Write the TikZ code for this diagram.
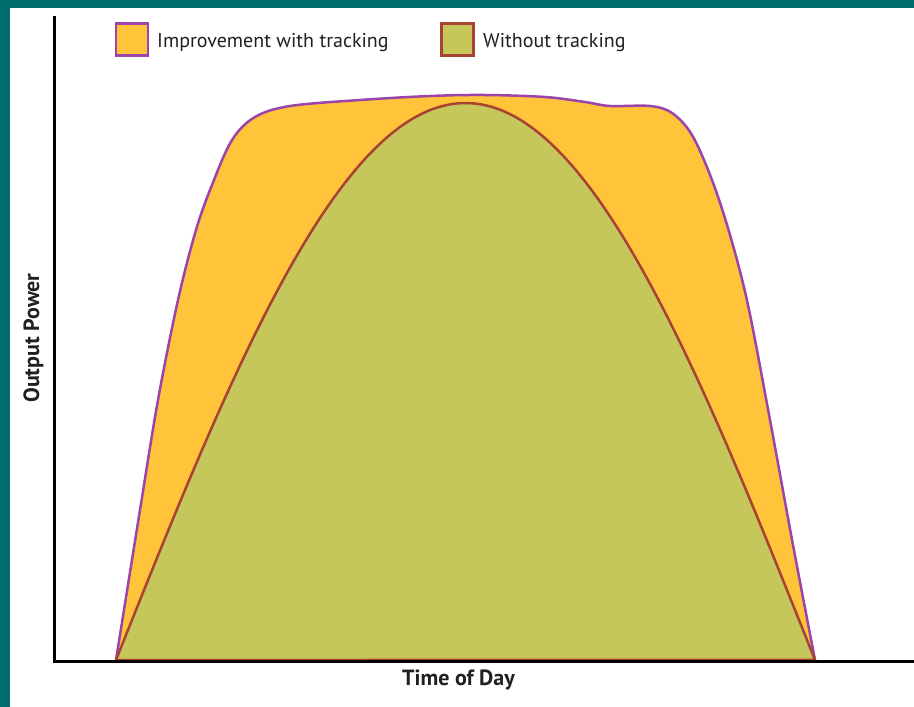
\documentclass[tikz,border=0pt]{standalone}
\usepackage{fontspec}
\setmainfont{PT Sans}
\definecolor{teal1}{HTML}{006B6B}
\definecolor{orng}{HTML}{FFC43A}
\definecolor{olive1}{HTML}{C5C75A}
\definecolor{purp}{HTML}{9B44AA}
\definecolor{rbrown}{HTML}{A84232}
\definecolor{txt}{HTML}{231F20}
\begin{document}
\begin{tikzpicture}[x=1pt,y=-1pt,
  legbox/.style={line width=2.5pt,minimum size=32pt,inner sep=0pt},
  legtext/.style={anchor=base west,inner sep=0pt,font=\fontsize{20}{24}\selectfont,text=txt},
  axlabel/.style={inner sep=0pt,anchor=base,font=\fontsize{22}{26}\selectfont\bfseries,text=txt}]
\useasboundingbox (0,0) rectangle (914,707);
\fill[white] (0,0) rectangle (914,707);
\fill[teal1] (0,0) rectangle (914,8);
\fill[teal1] (0,0) rectangle (10,707);
% outer curve
\draw[fill=orng,draw=purp,line width=2.5pt,line join=round]
  plot[smooth,tension=0.55] coordinates {(116,660) (140,510) (158,400) (178,300) (196,230) (212,185) (232,140) (255,117) (290,106) (360,100) (430,96) (485,95) (545,97) (585,102) (610,106) (650,106) (672,113) (692,135) (712,180) (730,235) (748,305) (770,420) (793,545) (815,660)} -- cycle;
% inner curve
\draw[fill=olive1,draw=rbrown,line width=2.5pt,line join=round]
  plot[domain=116:815,samples=120] (\x,{660-557*sin(0.257511*(\x-116))}) -- cycle;
% axes
\coordinate (o) at (54,661);
\coordinate (ytop) at (54,16);
\coordinate (xend) at (914,661);
\draw[line width=3pt] (ytop) -- (o) -- (xend);
% legend
\node[legbox,draw=purp,fill=orng] (b1) at (132,39.5) {};
\node[legtext] (t1) at (157,47) {Improvement with tracking};
\node[legbox,draw=rbrown,fill=olive1] (b2) at (457.5,39.5) {};
\node[legtext] (t2) at (483,47) {Without tracking};
% axis labels
\node[axlabel] (xl) at (458.5,685) {Time of Day};
\node[axlabel,rotate=90] (yl) at (39,338) {Output Power};
\end{tikzpicture}
\end{document}
